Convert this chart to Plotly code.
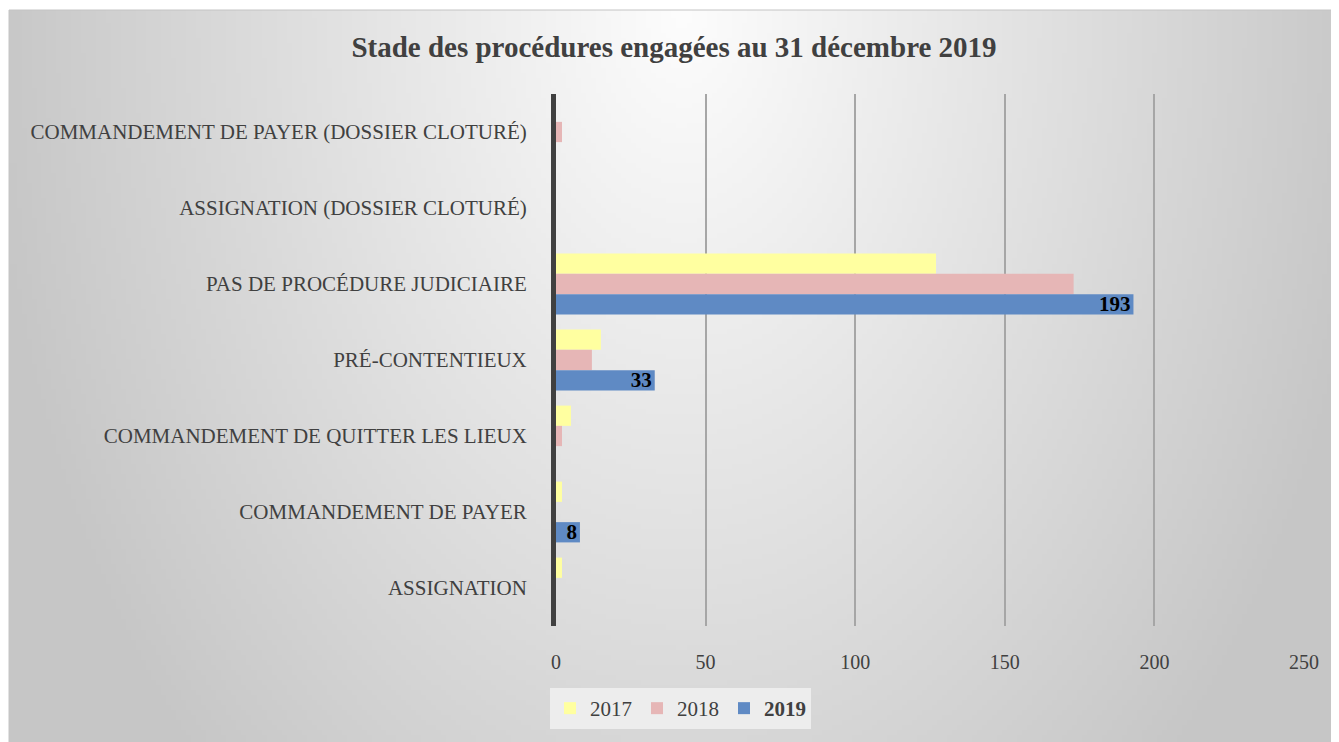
import base64, struct, zlib
import numpy as np
import plotly.graph_objects as go

categories = [
    "COMMANDEMENT DE PAYER (DOSSIER CLOTURÉ)",
    "ASSIGNATION (DOSSIER CLOTURÉ)",
    "PAS DE PROCÉDURE JUDICIAIRE",
    "PRÉ-CONTENTIEUX",
    "COMMANDEMENT DE QUITTER LES LIEUX",
    "COMMANDEMENT DE PAYER",
    "ASSIGNATION",
]
values_2017 = [0, 0, 127, 15, 5, 2, 2]
values_2018 = [2, 0, 173, 12, 2, 0, 0]
values_2019 = [0, 0, 193, 33, 0, 8, 0]
labels_2019 = ["", "", "193", "33", "", "8", ""]
x_ticks = [0, 50, 100, 150, 200, 250]

FONT = "Liberation Serif"
OFF = 8  # browser body margin
W, H = 1339 - OFF, 742 - OFF
ML, MR, MT, MB = 556 - OFF, 35, 94 - OFF, 116
PW, PH = W - ML - MR, H - MT - MB


def gradient_png(w, h):
    yy, xx = np.mgrid[0:h, 0:w].astype(float)
    cx, cy = w * 0.505, 0.0
    d = np.sqrt(((xx - cx) / (w * 0.53)) ** 2 + ((yy - cy) / (h * 1.45)) ** 2)
    v = 253 - 55 * np.clip(d, 0, 1)
    v = v.astype(np.uint8)
    rgb = np.stack([v, v, v], axis=-1)
    raw = b"".join(b"\x00" + rgb[r].tobytes() for r in range(h))
    def chunk(t, data):
        c = struct.pack(">I", len(data)) + t + data
        return c + struct.pack(">I", zlib.crc32(t + data) & 0xFFFFFFFF)
    png = b"\x89PNG\r\n\x1a\n" + chunk(b"IHDR", struct.pack(">IIBBBBB", w, h, 8, 2, 0, 0, 0))
    png += chunk(b"IDAT", zlib.compress(raw, 9)) + chunk(b"IEND", b"")
    return "data:image/png;base64," + base64.b64encode(png).decode()


bg = gradient_png(266, 146)

fig = go.Figure()
fig.add_trace(go.Bar(y=categories, x=values_2017, name="2017", orientation="h",
                     marker=dict(color="#FFFFA0", line=dict(width=0))))
fig.add_trace(go.Bar(y=categories, x=values_2018, name="2018", orientation="h",
                     marker=dict(color="#E6B6B6", line=dict(width=0))))
fig.add_trace(go.Bar(y=categories, x=values_2019, name="<b>2019</b>", orientation="h",
                     marker=dict(color="#5F8AC4", line=dict(width=0)),
                     text=labels_2019, textposition="inside", insidetextanchor="end",
                     constraintext="none", textangle=0,
                     textfont=dict(family=FONT, size=21, color="#000000", weight="bold")))

# background image position in paper coords (figure pixel 1,2 -> end)
bx0 = (1 - ML) / PW
by0 = (H - MB - 2) / PH

fig.update_layout(
    width=W, height=H,
    margin=dict(l=ML, r=MR, t=MT, b=MB),
    paper_bgcolor="white",
    plot_bgcolor="rgba(0,0,0,0)",
    barmode="group", bargap=0.2, bargroupgap=0,
    font=dict(family=FONT, size=21, color="#404040"),
    title=dict(text="<b>Stade des procédures engagées au 31 décembre 2019</b>",
               x=(674 - OFF) / W, xref="container", xanchor="center",
               y=1 - (47 - OFF) / H, yref="container", yanchor="middle",
               font=dict(family=FONT, size=29, color="#404040")),
    xaxis=dict(range=[0, 250], tickvals=x_ticks, showgrid=True, gridcolor="#A6A6A6",
               gridwidth=1.5, zeroline=False, showline=False, ticks="",
               ticklabelstandoff=22, tickfont=dict(size=20, color="#404040")),
    yaxis=dict(autorange="reversed", showline=True, linecolor="#404040", linewidth=5,
               ticks="", showgrid=False, ticklabelstandoff=20,
               tickfont=dict(size=21, color="#404040")),
    legend=dict(orientation="h", x=(550 - 556) / PW, y=(H - MB - (688 - OFF)) / PH,
                xanchor="left", yanchor="top", bgcolor="#EDEDED",
                font=dict(family=FONT, size=21, color="#404040"),
                itemwidth=30, tracegroupgap=0),
    images=[dict(source=bg, xref="paper", yref="paper", x=bx0, y=by0,
                 sizex=(W - 1) / PW, sizey=(H - 2) / PH, sizing="stretch",
                 xanchor="left", yanchor="top", layer="below")],
    shapes=[dict(type="rect", xref="paper", yref="paper", x0=bx0, y0=by0,
                 x1=bx0 + (W - 1) / PW + 0.01, y1=by0 - (H - 2) / PH - 0.01,
                 line=dict(color="#C4C4C4", width=1), layer="below")],
)

fig.write_html("out.html")
